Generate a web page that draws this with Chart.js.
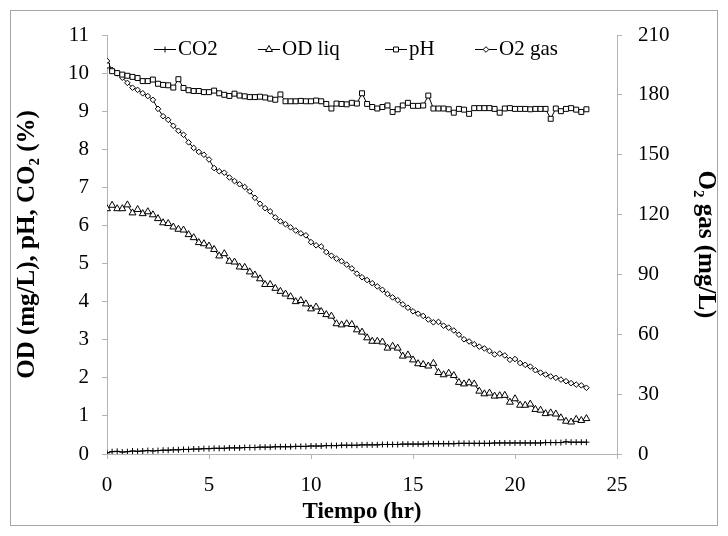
<!DOCTYPE html>
<html>
<head>
<meta charset="utf-8">
<script src="https://cdn.jsdelivr.net/npm/chart.js@4/dist/chart.umd.min.js"></script>
<style>
    body { margin: 0; background: #fff; }
    #chart { display: block; }
</style>
</head>
<body>
<canvas id="chart" width="728" height="536"></canvas>
<script>
// sampling times (hr)
const timeHr = [
    0, 0.25, 0.5, 0.75, 1, 1.25, 1.5, 1.75,
    2, 2.25, 2.5, 2.75, 3, 3.25, 3.5, 3.75,
    4, 4.25, 4.5, 4.75, 5, 5.25, 5.5, 5.75,
    6, 6.25, 6.5, 6.75, 7, 7.25, 7.5, 7.75,
    8, 8.25, 8.5, 8.75, 9, 9.25, 9.5, 9.75,
    10, 10.25, 10.5, 10.75, 11, 11.25, 11.5, 11.75,
    12, 12.25, 12.5, 12.75, 13, 13.25, 13.5, 13.75,
    14, 14.25, 14.5, 14.75, 15, 15.25, 15.5, 15.75,
    16, 16.25, 16.5, 16.75, 17, 17.25, 17.5, 17.75,
    18, 18.25, 18.5, 18.75, 19, 19.25, 19.5, 19.75,
    20, 20.25, 20.5, 20.75, 21, 21.25, 21.5, 21.75,
    22, 22.25, 22.5, 22.75, 23, 23.25, 23.5
];

// CO2 (%)
const co2 = [
    0.03, 0.06, 0.07, 0.05, 0.06, 0.08, 0.07, 0.08,
    0.09, 0.08, 0.09, 0.10, 0.10, 0.11, 0.11, 0.12,
    0.12, 0.13, 0.13, 0.14, 0.14, 0.15, 0.15, 0.15,
    0.16, 0.16, 0.16, 0.17, 0.17, 0.17, 0.18, 0.18,
    0.18, 0.19, 0.19, 0.19, 0.19, 0.20, 0.20, 0.20,
    0.21, 0.21, 0.21, 0.22, 0.22, 0.22, 0.23, 0.23,
    0.23, 0.23, 0.24, 0.24, 0.24, 0.24, 0.25, 0.25,
    0.25, 0.25, 0.26, 0.26, 0.26, 0.26, 0.26, 0.27,
    0.27, 0.27, 0.27, 0.27, 0.27, 0.28, 0.28, 0.28,
    0.28, 0.28, 0.28, 0.28, 0.29, 0.29, 0.29, 0.29,
    0.29, 0.29, 0.29, 0.29, 0.29, 0.29, 0.30, 0.30,
    0.30, 0.30, 0.32, 0.31, 0.31, 0.31, 0.31
];

// dissolved oxygen in liquid (mg/L)
const odLiq = [
    6.44, 6.53, 6.44, 6.44, 6.54, 6.33, 6.42, 6.31,
    6.36, 6.28, 6.18, 6.07, 6.05, 5.96, 5.90, 5.88,
    5.76, 5.68, 5.55, 5.52, 5.46, 5.37, 5.20, 5.26,
    5.06, 5.04, 4.91, 4.90, 4.78, 4.70, 4.60, 4.45,
    4.45, 4.35, 4.27, 4.20, 4.13, 4.00, 4.03, 3.94,
    3.81, 3.86, 3.74, 3.66, 3.62, 3.42, 3.39, 3.42,
    3.40, 3.26, 3.20, 3.05, 2.96, 2.96, 2.94, 2.78,
    2.83, 2.78, 2.57, 2.60, 2.47, 2.37, 2.35, 2.31,
    2.38, 2.14, 2.08, 2.12, 2.06, 1.88, 1.84, 1.87,
    1.84, 1.65, 1.58, 1.60, 1.52, 1.53, 1.54, 1.36,
    1.45, 1.28, 1.28, 1.31, 1.17, 1.15, 1.06, 1.08,
    1.05, 0.95, 0.86, 0.84, 0.91, 0.88, 0.93
];

// pH
const ph = [
    10.20, 10.05, 10.00, 9.96, 9.93, 9.90, 9.87, 9.79,
    9.79, 9.83, 9.72, 9.69, 9.68, 9.62, 9.84, 9.61,
    9.55, 9.53, 9.53, 9.50, 9.50, 9.54, 9.47, 9.43,
    9.40, 9.46, 9.41, 9.39, 9.37, 9.37, 9.38, 9.36,
    9.33, 9.30, 9.44, 9.26, 9.26, 9.26, 9.27, 9.26,
    9.26, 9.28, 9.26, 9.19, 9.07, 9.20, 9.19, 9.18,
    9.22, 9.20, 9.47, 9.19, 9.11, 9.07, 9.11, 9.15,
    8.98, 9.05, 9.15, 9.22, 9.14, 9.14, 9.15, 9.41,
    9.07, 9.07, 9.07, 9.05, 8.96, 9.06, 9.04, 8.93,
    9.08, 9.08, 9.08, 9.08, 9.06, 8.96, 9.07, 9.08,
    9.06, 9.06, 9.06, 9.05, 9.06, 9.06, 9.06, 8.80,
    9.07, 9.00, 9.06, 9.08, 9.04, 8.98, 9.05
];

// O2 in gas phase (mg/L), right axis
const o2Gas = [
    197.0, 192.5, 190.8, 188.6, 186.0, 183.6, 182.5, 180.8,
    179.4, 177.5, 173.0, 169.3, 167.5, 164.5, 162.0, 160.0,
    156.2, 153.4, 151.4, 150.0, 147.6, 143.3, 141.7, 141.0,
    138.6, 136.8, 135.2, 133.8, 131.6, 128.4, 125.4, 123.2,
    121.6, 118.6, 116.6, 115.2, 113.6, 112.0, 110.6, 109.6,
    106.2, 104.6, 104.0, 101.2, 99.4, 97.9, 96.6, 94.9,
    93.0, 90.4, 88.6, 87.2, 85.6, 84.0, 82.3, 80.2,
    78.5, 77.1, 75.0, 73.3, 71.5, 70.3, 69.2, 67.4,
    66.0, 66.2, 64.3, 63.3, 61.9, 59.8, 57.5, 56.4,
    55.0, 53.8, 52.9, 51.6, 49.9, 50.3, 49.4, 47.2,
    47.6, 45.6, 44.7, 43.8, 42.0, 40.8, 39.8, 38.9,
    38.2, 37.3, 36.5, 35.5, 34.8, 34.4, 33.2
];

const toPoints = (values) => values.map((v, i) => ({ x: timeHr[i], y: v }));

const FONT = "'Liberation Serif', 'Times New Roman', serif";
const AXIS_GREY = "#b4b4b4";

const seriesStyle = (label, values, pointStyle, radius, axis) => ({
    label: label,
    data: toPoints(values),
    yAxisID: axis,
    borderColor: "#000",
    borderWidth: 1,
    pointStyle: pointStyle,
    pointRadius: radius,
    pointBorderColor: "#000",
    pointBackgroundColor: "#fff",
    pointBorderWidth: 1,
    tension: 0,
    fill: false,
});

// draws the outer frame and the in-plot legend
const framePlugin = {
    id: "frame",
    beforeDraw(chart) {
        const ctx = chart.ctx;
        ctx.save();
        ctx.fillStyle = "#fff";
        ctx.fillRect(0, 0, chart.width, chart.height);
        ctx.strokeStyle = "#a6a6a6";
        ctx.lineWidth = 1;
        ctx.strokeRect(10.5, 10.5, 707, 515);
        ctx.restore();
    },
    afterDraw(chart) {
        const ctx = chart.ctx;
        const legendX = [154, 258, 385, 475];
        const y = 49;
        ctx.save();
        ctx.font = "21px " + FONT;
        ctx.textBaseline = "middle";
        chart.data.datasets.forEach((ds, i) => {
            const x0 = legendX[i];
            const x1 = x0 + 22;
            ctx.strokeStyle = "#000";
            ctx.lineWidth = 1;
            ctx.beginPath();
            ctx.moveTo(x0, y + 0.5);
            ctx.lineTo(x1, y + 0.5);
            ctx.stroke();
            ctx.fillStyle = "#fff";
            Chart.helpers.drawPoint(ctx, {
                pointStyle: ds.pointStyle,
                radius: ds.pointRadius,
                rotation: 0,
                borderWidth: 1,
            }, (x0 + x1) / 2, y + 0.5);
            ctx.fillStyle = "#000";
            ctx.fillText(ds.label, x1 + 2, y);
        });
        ctx.restore();
    }
};

const ctx = document.getElementById("chart").getContext("2d");

new Chart(ctx, {
    type: "line",
    data: {
        datasets: [
            seriesStyle("CO2", co2, "cross", 3, "y"),
            seriesStyle("OD liq", odLiq, "triangle", 4, "y"),
            seriesStyle("pH", ph, "rect", 3.5, "y"),
            seriesStyle("O2 gas", o2Gas, "rectRot", 2.8, "y2"),
        ]
    },
    options: {
        responsive: false,
        animation: false,
        devicePixelRatio: 1,
        layout: { padding: { top: 35, left: 0, right: 0, bottom: 0 } },
        plugins: {
            legend: { display: false },
            tooltip: { enabled: false },
        },
        scales: {
            x: {
                type: "linear",
                min: 0,
                max: 25,
                ticks: {
                    stepSize: 5,
                    color: "#000",
                    font: { family: FONT, size: 21 },
                    padding: 14,
                    maxRotation: 0,
                },
                grid: {
                    drawOnChartArea: false,
                    tickLength: 5,
                    tickColor: AXIS_GREY,
                },
                border: { color: AXIS_GREY },
                title: {
                    display: true,
                    text: "Tiempo (hr)",
                    color: "#000",
                    font: { family: FONT, size: 23, weight: "bold" },
                    padding: { top: 0, bottom: 10 },
                },
                afterFit: (scale) => { scale.height = 82; },
            },
            y: {
                position: "left",
                min: 0,
                max: 11,
                ticks: {
                    stepSize: 1,
                    color: "#000",
                    font: { family: FONT, size: 21 },
                    padding: 13,
                },
                grid: {
                    drawOnChartArea: false,
                    tickLength: 5,
                    tickColor: AXIS_GREY,
                },
                border: { color: AXIS_GREY },
                title: {
                    display: true,
                    text: "OD (mg/L), pH, CO\u2082 (%)",
                    color: "#000",
                    font: { family: FONT, size: 25, weight: "bold" },
                    padding: { top: 13, bottom: 0 },
                },
                afterFit: (scale) => { scale.width = 107; },
            },
            y2: {
                position: "right",
                min: 0,
                max: 210,
                ticks: {
                    stepSize: 30,
                    color: "#000",
                    font: { family: FONT, size: 21 },
                    padding: 16,
                },
                grid: {
                    drawOnChartArea: false,
                    tickLength: 5,
                    tickColor: AXIS_GREY,
                },
                border: { color: AXIS_GREY },
                title: {
                    display: true,
                    text: "O\u2082 gas (mg/L)",
                    color: "#000",
                    font: { family: FONT, size: 25, weight: "bold" },
                    padding: { top: 8, bottom: 0 },
                },
                afterFit: (scale) => { scale.width = 111; },
            }
        }
    },
    plugins: [framePlugin],
});
</script>
</body>
</html>
